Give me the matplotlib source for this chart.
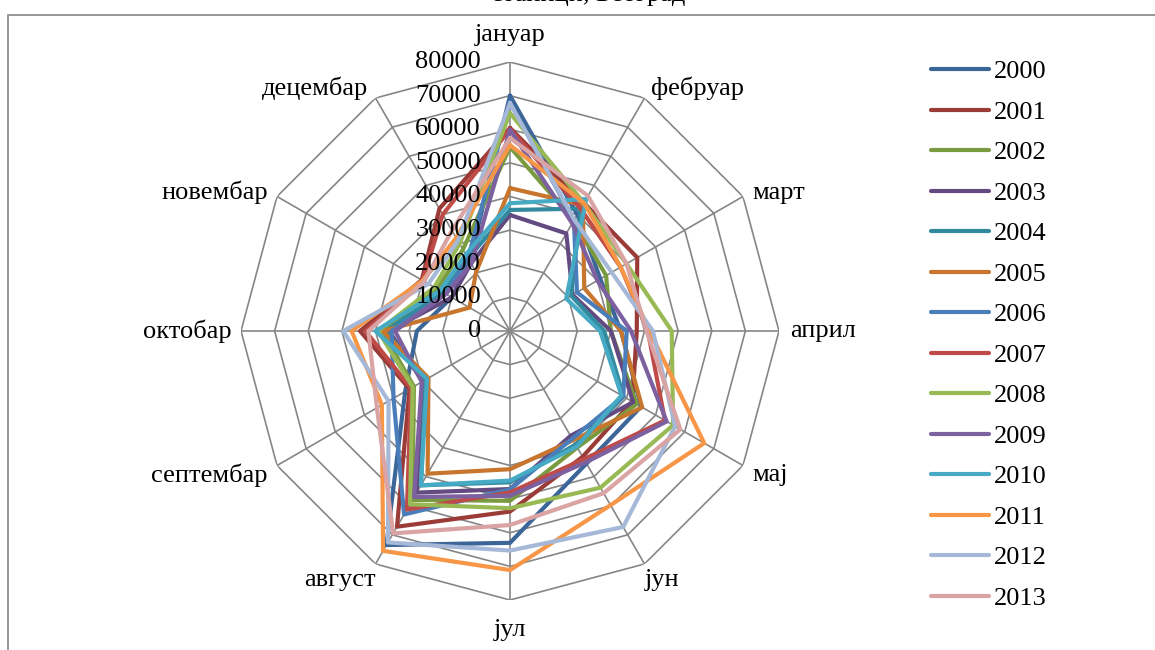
import numpy as np
import matplotlib.pyplot as plt
from matplotlib.patches import Rectangle

plt.rcParams['font.family'] = ['Liberation Serif', 'DejaVu Serif']

# month axes, clockwise from the top
months = ['јануар', 'фебруар', 'март', 'април', 'мај', 'јун',
          'јул', 'август', 'септембар', 'октобар', 'новембар', 'децембар']
years = ['2000', '2001', '2002', '2003', '2004', '2005', '2006',
         '2007', '2008', '2009', '2010', '2011', '2012', '2013']

v2000 = [70000, 40000, 31000, 33000, 45000, 45500, 63000, 73500, 36000, 27700, 20000, 24000]
v2001 = [60400, 44000, 43700, 37700, 42000, 43200, 53700, 67200, 34500, 44600, 30300, 42000]
v2002 = [54700, 38000, 33000, 30000, 43500, 40000, 50500, 58000, 33000, 38000, 25000, 28000]
v2003 = [34500, 33500, 21500, 30000, 42300, 36000, 47000, 55500, 30000, 36000, 20000, 23200]
v2004 = [36000, 42000, 21000, 28000, 39000, 39000, 45000, 53000, 29000, 37000, 23000, 25000]
v2005 = [42500, 43300, 25500, 33000, 45400, 37500, 41100, 49000, 28000, 37800, 13900, 20200]
v2006 = [68000, 38000, 23000, 34700, 38900, 37000, 47100, 63000, 40000, 35200, 22000, 25000]
v2007 = [60000, 42000, 38000, 41000, 53200, 44000, 48000, 61300, 34000, 43000, 30000, 40000]
v2008 = [64800, 44000, 40000, 48100, 56000, 53800, 52700, 59500, 33400, 39200, 26000, 30000]
v2009 = [59800, 37000, 30000, 36000, 53800, 45100, 49000, 57000, 30300, 34200, 22000, 23000]
v2010 = [38000, 45300, 19300, 26800, 38300, 39700, 44500, 53000, 28500, 40000, 24000, 26300]
v2011 = [55300, 44000, 38000, 41500, 66700, 59800, 71100, 75500, 44000, 47100, 30000, 32000]
v2012 = [67800, 38200, 34900, 42500, 56700, 67300, 65300, 72600, 41700, 49600, 28000, 31000]
v2013 = [57400, 46400, 40000, 40600, 58500, 55700, 57700, 69500, 45700, 42100, 29500, 34500]

series = [v2000, v2001, v2002, v2003, v2004, v2005, v2006,
          v2007, v2008, v2009, v2010, v2011, v2012, v2013]
colors = ['#3C6598', '#9A3B38', '#7A9A3F', '#634A80', '#328A9E', '#C8762E', '#4A7EBB',
          '#BE4B48', '#98B954', '#7D60A0', '#46AAC5', '#F79646', '#A6B8D8', '#D9A4A3']

rticks = [0, 10000, 20000, 30000, 40000, 50000, 60000, 70000, 80000]

# label offsets in pixels from the outer ring vertex
lab_dx = [0, 7, 9, 11, 9, 0, 0, 0, -10, -9, -9, -7]
lab_dy = [27, 10, 4, 0, -10, -16, -30, -16, -10, 0, 4, 10]
lab_ha = ['center', 'left', 'left', 'left', 'left', 'left',
          'center', 'right', 'right', 'right', 'right', 'right']

grid_col = '#868686'
fsize = 19

fig = plt.figure(figsize=(11.55, 6.5), dpi=100)

# frame of the chart area, only the top and left edges fall in view
fig.patches.append(Rectangle((8 / 1155, -0.1), 1.2, 1.1 - 15 / 650,
                             transform=fig.transFigure, fill=False,
                             edgecolor=grid_col, lw=1.2))
fig.text(588 / 1155, 1 - 6 / 650, 'станици, Београд', ha='center', va='bottom', fontsize=fsize)

cx, cy, R = 510 / 1155, 1 - 331 / 650, 269
ax = fig.add_axes([cx - R / 1155, cy - R / 650, 2 * R / 1155, 2 * R / 650], projection='polar')
ax.set_theta_zero_location('N')
ax.set_theta_direction(-1)
ax.grid(False)
ax.set_xticks([])
ax.set_yticks([])
ax.spines['polar'].set_visible(False)
ax.patch.set_visible(False)
ax.set_ylim(0, 80000)

theta = np.arange(12) * 2 * np.pi / 12
closed = np.append(theta, theta[0])

# polygon rings and spokes
for r in rticks[1:]:
    ax.plot(closed, [r] * 13, color=grid_col, lw=1.2, zorder=1)
for th in theta:
    ax.plot([th, th], [0, 80000], color=grid_col, lw=1.2, zorder=1)

for r in rticks:
    ax.annotate(str(r), xy=(0, r), xytext=(-29, 0), textcoords='offset pixels',
                ha='right', va='center', fontsize=fsize, zorder=5)

for i, m in enumerate(months):
    ax.annotate(m, xy=(theta[i], 80000), xytext=(lab_dx[i], lab_dy[i]),
                textcoords='offset pixels', ha=lab_ha[i], va='center',
                fontsize=fsize, annotation_clip=False)

handles = []
for vals, c, y in zip(series, colors, years):
    ln, = ax.plot(closed, vals + vals[:1], color=c, lw=3, label=y,
                  solid_joinstyle='round', solid_capstyle='round', zorder=3)
    handles.append(ln)

fig.legend(handles=handles, labels=years, loc='upper left',
           bbox_to_anchor=(931 / 1155, 1 - 60 / 650), frameon=False,
           fontsize=fsize, handlelength=2.2, handletextpad=0.2,
           labelspacing=0.645, borderpad=0, borderaxespad=0)

fig.savefig('out.png', dpi=100)
